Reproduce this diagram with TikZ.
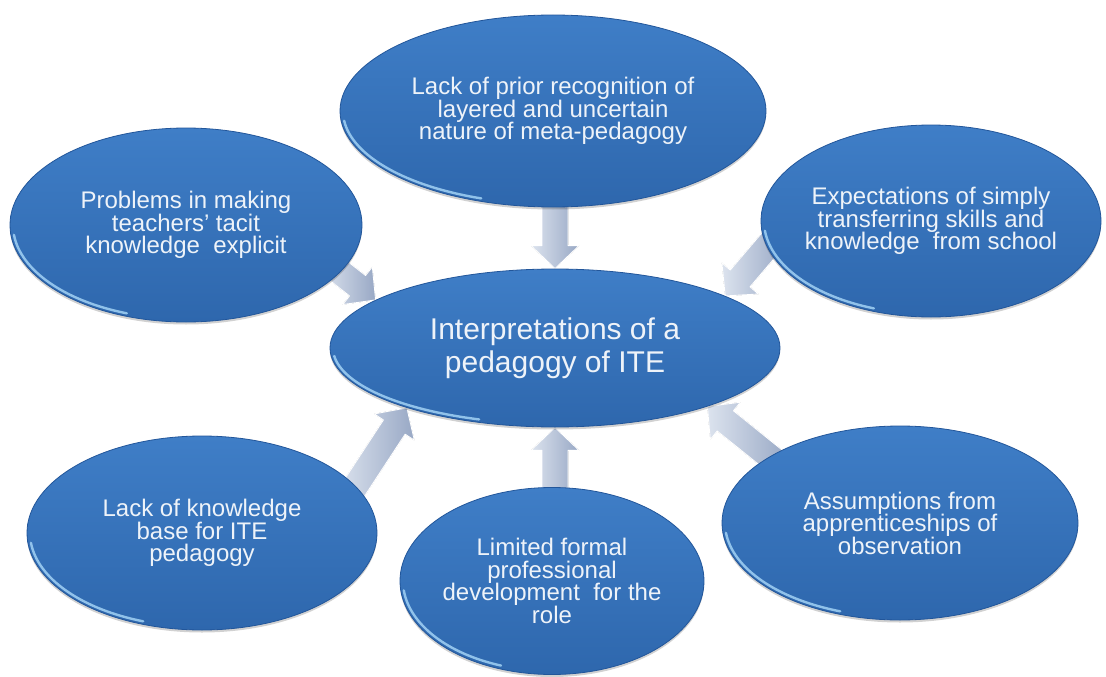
\documentclass[tikz,border=0pt]{standalone}
\usepackage{fontspec}
\setmainfont{Liberation Sans}
\usetikzlibrary{calc,shapes.geometric,shadows}
\pgfdeclarelayer{background}
\pgfsetlayers{background,main}
\definecolor{elltop}{HTML}{3F7EC7}
\definecolor{ellbot}{HTML}{2E67AD}
\definecolor{elledge}{HTML}{22569A}
\definecolor{rimhl}{HTML}{A2D2F5}
\definecolor{arrlight}{HTML}{DCE3EE}
\definecolor{arrdark}{HTML}{98A8C5}
\definecolor{txt}{HTML}{EEF3F9}
\tikzset{
  bubble/.style={ellipse, inner sep=-40pt, top color=elltop, bottom color=ellbot,
    draw=elledge, line width=0.8pt, text=txt, align=center,
    font=\fontsize{24}{22.5}\selectfont,
    drop shadow={shadow xshift=0pt, shadow yshift=-2.5pt, opacity=0.18, fill=black}},
  hub/.style={bubble, font=\fontsize{30}{33}\selectfont},
  rimline/.style={draw=rimhl, line width=2.4pt, line cap=round, opacity=0.85},
  arrowbody/.style={left color=arrlight, right color=arrdark, draw=white,
    line width=0.9pt, line join=round}
}
\newcommand\blockarrow[2]{%
  \coordinate (ba-s) at ($(#1)!-14pt!(#2)$);
  \coordinate (ba-h) at ($(#2)!23pt!(#1)$);
  \filldraw[arrowbody]
    ($(ba-s)!13pt!90:(#2)$) -- ($(ba-h)!13pt!90:(#2)$) -- ($(ba-h)!24pt!90:(#2)$) -- (#2)
    -- ($(ba-h)!24pt!-90:(#2)$) -- ($(ba-h)!13pt!-90:(#2)$) -- ($(ba-s)!13pt!-90:(#2)$) -- cycle;
}
\newcommand\rimarc[3]{%
  \draw[rimline, x=1pt, y=1pt] (#1.center) ++(186:{#2-3} and {#3-3})
    arc[start angle=186, end angle=250, x radius=#2-3, y radius=#3-3];
}
\begin{document}
\begin{tikzpicture}[x=1pt, y=-1pt]
\useasboundingbox (0,0) rectangle (1106,677);

\node[bubble, minimum width=426pt, minimum height=192pt] (top) at (553,111)
  {Lack of prior recognition of\\layered and uncertain\\nature of meta-pedagogy};
\node[bubble, minimum width=352pt, minimum height=194pt] (tl) at (186,225)
  {Problems in making\\teachers' tacit\\knowledge\ \ explicit};
\node[bubble, minimum width=340pt, minimum height=192pt] (tr) at (931,221)
  {Expectations of simply\\transferring skills and\\knowledge\ \ from school};
\node[bubble, minimum width=350pt, minimum height=194pt] (bl) at (202,533)
  {Lack of knowledge\\base for ITE\\pedagogy};
\node[bubble, minimum width=304pt, minimum height=187pt] (bc) at (552,581)
  {Limited formal\\professional\\development\ \ for the\\role};
\node[bubble, minimum width=356pt, minimum height=194pt] (br) at (900,523)
  {Assumptions from\\apprenticeships of\\observation};
\node[hub, minimum width=450pt, minimum height=158pt] (c) at (555,348)
  {Interpretations of a\\pedagogy of ITE};

\rimarc{top}{213}{96}
\rimarc{tl}{176}{97}
\rimarc{tr}{170}{96}
\rimarc{bl}{175}{97}
\rimarc{bc}{152}{93}
\rimarc{br}{178}{97}
\rimarc{c}{225}{79}

\begin{pgfonlayer}{background}
  \fill[white] (0,0) rectangle (1106,677);
  \blockarrow{top.south -| c.north}{c.north}
  \blockarrow{tl.-17}{c.165}
  \blockarrow{tr.189}{c.17}
  \blockarrow{bl.17}{c.202}
  \blockarrow{bc.north -| c.south}{c.south}
  \blockarrow{br.153}{c.-21}
\end{pgfonlayer}
\end{tikzpicture}
\end{document}
